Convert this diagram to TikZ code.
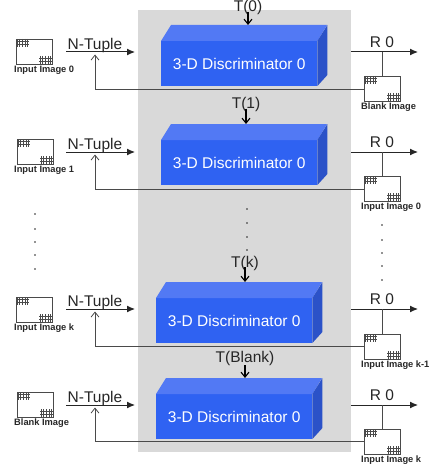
\documentclass[tikz,border=0pt]{standalone}
\usepackage{fontspec}
\setmainfont{Liberation Sans}
\usetikzlibrary{arrows.meta}
\definecolor{ndGray}{HTML}{D9D9D9}
\definecolor{ndFront}{HTML}{2F62F2}
\definecolor{ndTop}{HTML}{5279F4}
\definecolor{ndSide}{HTML}{2B52C8}
\definecolor{ndInk}{HTML}{262626}
\definecolor{ndLine}{HTML}{4A4A4A}
\tikzset{
  nd flow/.style={draw=ndInk, line width=1pt, -{Latex[length=8pt,width=7pt]}},
  nd back/.style={draw=ndLine, line width=0.8pt, -{Straight Barb[length=5pt,width=8pt]}},
  nd tap/.style={draw=ndLine, line width=0.8pt},
  nd clock/.style={draw=black, line width=1.1pt, -{Straight Barb[length=5pt,width=8pt]}},
  nd front/.style={fill=ndFront, minimum width=156pt, minimum height=45pt, inner sep=0pt, anchor=north west,
    font=\fontsize{15.5}{16}\selectfont, text=white},
  nd label/.style={font=\fontsize{15.5}{16}\selectfont, text=ndInk, inner sep=0pt},
  nd small label/.style={font=\fontsize{9.3}{10}\selectfont\bfseries, text=ndInk, inner sep=0pt, anchor=west},
  nd dot/.style={fill=ndInk, circle, inner sep=0pt, minimum size=1.6pt},
  nd image/.style={draw=ndLine, fill=white, line width=0.8pt, minimum width=36pt, minimum height=25pt,
    inner sep=0pt, anchor=north west, outer sep=0pt,
    append after command={
      \pgfextra{\let\ndname\tikzlastnode}
      \foreach \c/\dx/\dy in {north west/0/0, south east/-13/-8} {
        \foreach \k in {0,...,4}
          {(\ndname.\c) ++(\dx+1+2.6*\k,\dy) edge[draw=ndLine, line width=0.4pt] ++(0,8)}
        \foreach \k in {1,2}
          {(\ndname.\c) ++(\dx,\dy+2.5*\k) edge[draw=ndLine, line width=0.4pt] ++(13,0)}
      }
    }},
}
\begin{document}
\begin{tikzpicture}[x=1pt,y=-1pt]
  \useasboundingbox (0,0) rectangle (430,468);

  % Gray panel behind the discriminators
  \fill[ndGray] (138,10) rectangle (351,452);

  % One row per discriminator
  \foreach \n/\ay/\bx/\by/\fy/\rtop/\lx/\ltop/\lname/\rname in {
    0/52/161/41/89/76/16/39/{Input Image 0}/{Blank Image},
    1/152/161/140/189/176/17/139/{Input Image 1}/{Input Image 0},
    k/309/156/298/346/334/16/297/{Input Image k}/{Input Image k-1},
    blank/405/156/394/441/429/17/392/{Blank Image}/{Input Image k}} {
    % Block with top and side faces
    \node[nd front] (disc\n) at (\bx,\by) {3-D Discriminator 0};
    \fill[ndTop] (disc\n.north west) -- ++(10,-16) -- ++(156,0) -- (disc\n.north east) -- cycle;
    \fill[ndSide] (disc\n.north east) -- ++(10,-16) -- ++(0,50) -- ++(-10,11) -- cycle;

    % Input side
    \node[nd image] (inimg\n) at (\lx,\ltop) {};
    \node[nd small label] (inlab\n) at (14,\ltop+31) {\lname};
    \coordinate (tupstart\n) at (66,\ay);
    \coordinate (tupend\n) at (135,\ay);
    \coordinate (tuptip\n) at (95,\ay+2.5);
    \draw[nd flow] (tupstart\n) -- (tupend\n);
    \node[nd label] (tuple\n) at (95,\ay-7) {N-Tuple};

    % Output side
    \node[nd image] (outimg\n) at (364,\rtop) {};
    \node[nd small label] (outlab\n) at (361,\rtop+31) {\rname};
    \coordinate (resstart\n) at (351,\ay);
    \coordinate (resend\n) at (418,\ay);
    \coordinate (restap\n) at (382,\ay);
    \draw[nd flow] (resstart\n) -- (resend\n);
    \draw[nd tap] (restap\n) -- (outimg\n.north -| restap\n);
    \node[nd label] (res\n) at (382,\ay-10) {R 0};

    % Feedback from output image to the tuple line
    \coordinate (backstart\n) at (outimg\n.west |- 0,\fy);
    \draw[nd back] (backstart\n) -| (tuptip\n);
  }

  % Clock labels and arrows
  \foreach \n/\x/\ly/\ay/\txt in {0/248/7/12/T(0), 1/246/104/109/T(1), k/245/263/267/T(k), blank/245/358/365/T(Blank)} {
    \node[nd label] (clk\n) at (\x,\ly) {\txt};
    \coordinate (clkstart\n) at (\x,\ay);
    \coordinate (clkend\n) at (disc\n.north -| clkstart\n);
    \draw[nd clock] (clkstart\n) -- ([yshift=16pt]clkend\n);
  }

  % Ellipsis dots
  \foreach \x/\y in {35/214,35/229,35/242,35/255,35/269,
                     247/209,247/223,247/237,247/250,
                     382/225,382/240,382/253,382/266,382/280}
    \node[nd dot] at (\x,\y) {};
\end{tikzpicture}
\end{document}
